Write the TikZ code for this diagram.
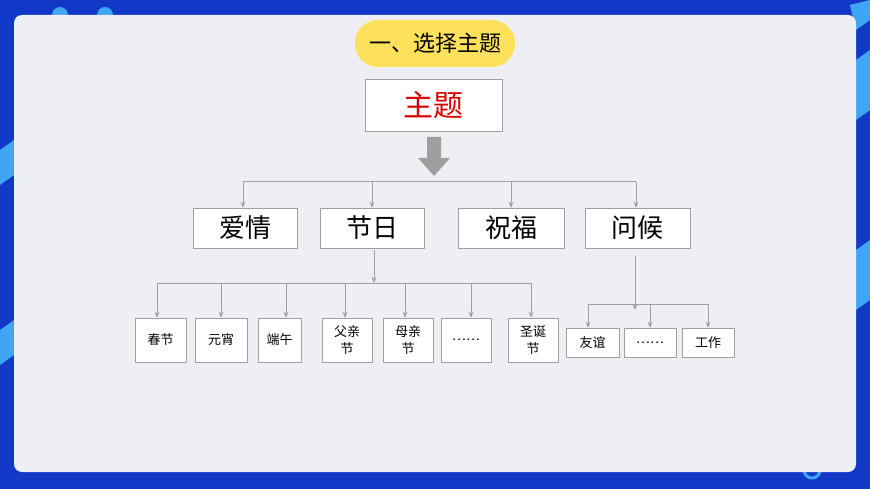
\documentclass[tikz,border=0pt]{standalone}
\usepackage{fontspec}
\newfontfamily\cjk{Noto Sans CJK SC}
\usetikzlibrary{arrows.meta}
\definecolor{bgblue}{HTML}{1238C8}
\definecolor{stripe}{HTML}{3FA6F5}
\definecolor{panel}{HTML}{EEEFF4}
\definecolor{pill}{HTML}{FDE15C}
\definecolor{wire}{HTML}{A0A0A0}
\begin{document}
\begin{tikzpicture}[x=1pt,y=-1pt,
    topic/.style ={draw=wire, fill=white, inner sep=0pt, font=\cjk\fontsize{26}{26}\selectfont},
    item/.style ={draw=wire, fill=white, inner sep=0pt, align=center, font=\cjk\fontsize{13}{17}\selectfont},
    link/.style ={wire, line width=1pt, -{Stealth[length=6pt,width=5pt]}},
    bar/.style ={wire, line width=1pt}]
   % background
   \fill[bgblue] (0,0) rectangle (870,489);
   \fill[stripe] (0,150) -- (14,140) -- (14,175) -- (0,185) -- cycle;
   \fill[stripe] (0,330) -- (14,320) -- (14,355) -- (0,365) -- cycle;
   \fill[stripe] (856,60) -- (870,50) -- (870,110) -- (856,120) -- cycle;
   \fill[stripe] (856,250) -- (870,240) -- (870,300) -- (856,310) -- cycle;
   \fill[stripe] (60,15) circle (8);
   \fill[stripe] (105,15) circle (8);
   \fill[stripe] (850,5) -- (870,0) -- (870,20) -- (856,30) -- cycle;
   \draw[stripe, line width=3pt] (812,470) circle (8);
   \fill[panel, rounded corners=8pt] (14,15) rectangle (856,472);
   % title
   \node[fill=pill, rounded corners=23pt, minimum width=160pt, minimum height=47pt,
     font=\cjk\fontsize{22}{22}\selectfont] (title) at (435,43.5) {一、选择主题};
   \node[topic, minimum width=137pt, minimum height=52pt, text=red!85!black,
     font=\cjk\fontsize{30}{30}\selectfont] (main) at (433.5,105) {主题};
   \fill[gray!75] (427,137) -- (441,137) -- (441,158) -- (450,158) -- (434,176)
     -- (418,158) -- (427,158) -- cycle;
   % level one
   \node[topic, minimum width=104pt, minimum height=40pt] (love) at (245,228) {爱情};
   \node[topic, minimum width=104pt, minimum height=40pt] (fest) at (372,228) {节日};
   \node[topic, minimum width=106pt, minimum height=40pt] (wish) at (511,228) {祝福};
   \node[topic, minimum width=105pt, minimum height=40pt] (greet) at (637.5,228) {问候};
   \draw[bar] (243,182) -- (636,182);
   \foreach \n/\x in {love/243, fest/372, wish/511, greet/636}
     \draw[link] (\x,182) -- (\n.north -| \x,0);
   % festivals
   \node[item, minimum width=51pt, minimum height=44pt] (spring) at (160.5,340) {春节};
   \node[item, minimum width=52pt, minimum height=44pt] (lantern) at (221,340) {元宵};
   \node[item, minimum width=43pt, minimum height=44pt] (dragon) at (279.5,340) {端午};
   \node[item, minimum width=50pt, minimum height=44pt] (father) at (347,340) {父亲\\节};
   \node[item, minimum width=50pt, minimum height=44pt] (mother) at (408,340) {母亲\\节};
   \node[item, minimum width=50pt, minimum height=44pt] (more) at (466,340) {……};
   \node[item, minimum width=50pt, minimum height=44pt] (xmas) at (533,340) {圣诞\\节};
   \coordinate (fj) at (374,283);
   \draw[link] (fest.south -| fj) ++(0,2) -- (fj);
   \draw[bar] (157,283) -- (531,283);
   \foreach \n/\x in {spring/157, lantern/221, dragon/286, father/345, mother/405, more/471, xmas/531}
     \draw[link] (\x,283) -- (\n.north -| \x,0);
   % greetings
   \node[item, minimum width=53pt, minimum height=29pt] (friend) at (592.5,342.5) {友谊};
   \node[item, minimum width=52pt, minimum height=29pt] (etc) at (650,342.5) {……};
   \node[item, minimum width=52pt, minimum height=29pt] (work) at (708,342.5) {工作};
   \coordinate (gj) at (635,310);
   \draw[link] (635,256) -- (gj);
   \draw[bar] (588,304) -- (708,304);
   \foreach \n/\x in {friend/588, etc/650, work/708}
     \draw[link] (\x,304) -- (\n.north -| \x,0);
\end{tikzpicture}
\end{document}
